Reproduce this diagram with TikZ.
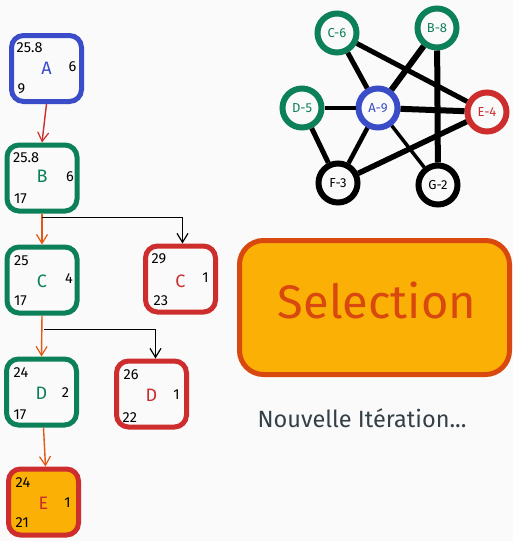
\documentclass[tikz,border=0pt]{standalone}
\usepackage{fontspec}
\setmainfont{Fira Sans}
\usetikzlibrary{arrows.meta,calc}
\definecolor{bg}{RGB}{250,250,250}
\definecolor{xblue}{RGB}{58,76,200}
\definecolor{xgreen}{RGB}{12,128,88}
\definecolor{xred}{RGB}{205,45,45}
\definecolor{xorange}{RGB}{226,88,20}
\definecolor{xdeep}{RGB}{217,72,15}
\definecolor{xyellow}{RGB}{250,176,5}
\definecolor{xslate}{RGB}{52,64,72}
\tikzset{
  box/.style={draw, line width=5pt, rounded corners=12pt, minimum width=70pt, minimum height=66pt, fill=bg},
  num/.style={font=\fontsize{14.5}{14.5}\selectfont, text=black, inner sep=0pt, anchor=west},
  rnum/.style={font=\fontsize{14.5}{14.5}\selectfont, text=black, inner sep=0pt},
  let/.style={font=\fontsize{18}{18}\selectfont, inner sep=0pt},
  circ/.style={circle, draw, line width=6pt, minimum size=39pt, inner sep=0pt, fill=bg, font=\fontsize{13}{13}\selectfont},
  edge/.style={line width=#1, black},
  tree/.style={line width=1.4pt, -{Straight Barb[length=9pt,width=11pt,line width=1.2pt]}},
  elbow/.style={line width=1.3pt, black, -{Straight Barb[length=9pt,width=11pt,line width=1.2pt]}}
}
\begin{document}
\begin{tikzpicture}[x=1pt,y=-1pt]
\fill[bg] (0,0) rectangle (513,541);
\useasboundingbox (0,0) rectangle (513,541);

% tree boxes
\node[box, draw=xblue] (A) at (46.5,68.5) {};
\node[box, draw=xgreen] (B) at (42,178) {};
\node[box, draw=xgreen] (C) at (42,280) {};
\node[box, draw=xred] (Cr) at (180.5,279) {};
\node[box, draw=xgreen] (D) at (41.5,392) {};
\node[box, draw=xred] (Dr) at (151.5,394) {};
\node[box, draw=xred, fill=xyellow] (E) at (43.5,502) {};

% texts
\node[num] (A1) at ($(A)+(-30,-21)$) {25.8};
\node[let, text=xblue] (A2) at ($(A)+(0,0)$) {A};
\node[rnum] (A3) at ($(A)+(26,-2)$) {6};
\node[num] (A4) at ($(A)+(-29,20)$) {9};

\node[num] (B1) at ($(B)+(-29,-20)$) {25.8};
\node[let, text=xgreen] (B2) at ($(B)+(0,-2)$) {B};
\node[rnum] (B3) at ($(B)+(28,-1)$) {6};
\node[num] (B4) at ($(B)+(-28,21)$) {17};

\node[num] (C1) at ($(C)+(-28,-19)$) {25};
\node[let, text=xgreen] (C2) at ($(C)+(0,1)$) {C};
\node[rnum] (C3) at ($(C)+(27,-1)$) {4};
\node[num] (C4) at ($(C)+(-28,21)$) {17};

\node[num] (Cr1) at ($(Cr)+(-29,-20)$) {29};
\node[let, text=xred] (Cr2) at ($(Cr)+(0,2)$) {C};
\node[rnum] (Cr3) at ($(Cr)+(25,-1)$) {1};
\node[num] (Cr4) at ($(Cr)+(-27,22)$) {23};

\node[num] (D1) at ($(D)+(-28,-19)$) {24};
\node[let, text=xgreen] (D2) at ($(D)+(0,1)$) {D};
\node[rnum] (D3) at ($(D)+(24,1)$) {2};
\node[num] (D4) at ($(D)+(-28,23)$) {17};

\node[num] (Dr1) at ($(Dr)+(-28,-19)$) {26};
\node[let, text=xred] (Dr2) at ($(Dr)+(0,1)$) {D};
\node[rnum] (Dr3) at ($(Dr)+(25,1)$) {1};
\node[num] (Dr4) at ($(Dr)+(-29,24)$) {22};

\node[num] (E1) at ($(E)+(-28,-19)$) {24};
\node[let, text=xred] (E2) at ($(E)+(0,1)$) {E};
\node[rnum] (E3) at ($(E)+(24,1)$) {1};
\node[num] (E4) at ($(E)+(-28,21)$) {21};

% tree arrows
\draw[tree, xred] (A.south) -- (B.north);
\draw[tree, xorange] (B.south) -- (C.north);
\draw[tree, xorange] (C.south) -- (D.north);
\draw[tree, xorange] ([xshift=2pt]D.south) -- ([xshift=2pt]E.north);
\coordinate (b1) at ($(B.south)+(0,4)$);
\coordinate (c1) at ($(C.south)+(2,14)$);
\draw[elbow] (b1) -| ([xshift=2pt]Cr.north);
\draw[elbow] (c1) -| ([xshift=4pt]Dr.north);

% graph
\node[circ, draw=xgreen, text=xgreen] (g6) at (337,33) {C-6};
\node[circ, draw=xgreen, text=xgreen] (g8) at (437,28) {B-8};
\node[circ, draw=xgreen, text=xgreen] (g5) at (302,108) {D-5};
\node[circ, draw=xred, text=xred] (g4) at (487,112) {E-4};
\node[circ, draw=black, text=black] (g3) at (338,183) {F-3};
\node[circ, draw=black, text=black] (g2) at (438,185) {G-2};
\node[circ, draw=xblue, text=xblue] (g9) at (378,108) {A-9};
\draw[edge=5pt] (g6) -- (g9);
\draw[edge=5pt] (g6) -- (g4);
\draw[edge=6pt] (g8) -- (g9);
\draw[edge=6pt] (g8) -- (g2);
\draw[edge=4pt] (g5) -- (g9);
\draw[edge=5pt] (g5) -- (g3);
\draw[edge=6pt] (g9) -- (g4);
\draw[edge=4.5pt] (g9) -- (g3);
\draw[edge=3.5pt] (g9) -- (g2);
\draw[edge=5.5pt] (g4) -- (g3);

% selection
\node[draw=xdeep, fill=xyellow, line width=5pt, rounded corners=24pt, minimum width=270pt, minimum height=134pt] (S) at (374.5,307.5) {};
\node[font=\fontsize{47}{47}\selectfont, text=xdeep, inner sep=0pt] (St) at (377,300) {Selection};
\node[font=\fontsize{23.5}{23.5}\selectfont, text=xslate, inner sep=0pt] (N) at (362,418) {Nouvelle Itération...};
\end{tikzpicture}
\end{document}
